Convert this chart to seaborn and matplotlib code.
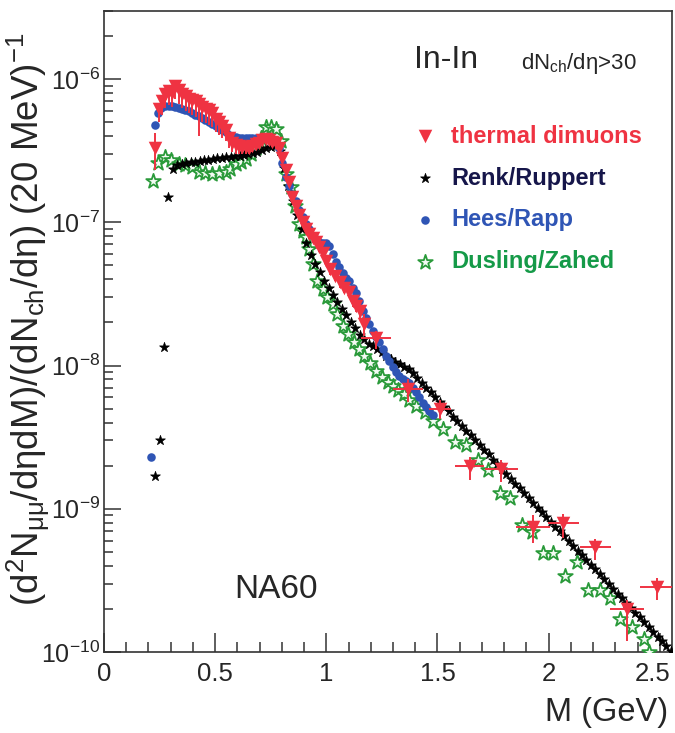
import matplotlib
matplotlib.use("Agg")
import matplotlib.pyplot as plt
from matplotlib import font_manager
from matplotlib.ticker import LogLocator, MultipleLocator
from matplotlib.transforms import ScaledTranslation
import seaborn as sns

# --- datos (M en GeV) ---
# thermal dimuons (NA60), con barras de error
therm_m = [0.228, 0.246, 0.261, 0.276, 0.291, 0.306, 0.321, 0.337, 0.352, 0.367,
           0.382, 0.397, 0.412, 0.427, 0.442, 0.457, 0.472, 0.487, 0.502, 0.517,
           0.532, 0.547, 0.562, 0.577, 0.592, 0.607, 0.622, 0.637, 0.652, 0.667,
           0.682, 0.697, 0.712, 0.727, 0.742, 0.757, 0.772, 0.787, 0.803, 0.818,
           0.833, 0.848, 0.863, 0.878, 0.893, 0.908, 0.923, 0.938, 0.953, 0.968,
           0.983, 1.000, 1.018, 1.040, 1.060, 1.081, 1.100, 1.118, 1.135, 1.150,
           1.168, 1.224, 1.366, 1.510, 1.645, 1.788, 1.930, 2.066, 2.209, 2.352,
           2.487]
therm_y = [3.3e-7, 6.2e-7, 7.0e-7, 7.9e-7, 8.3e-7, 8.0e-7, 9.0e-7, 8.4e-7, 7.9e-7, 7.6e-7,
           7.3e-7, 7.1e-7, 7.0e-7, 6.7e-7, 6.4e-7, 6.2e-7, 6.1e-7, 5.8e-7, 5.3e-7, 5.0e-7,
           4.7e-7, 4.4e-7, 3.9e-7, 3.6e-7, 3.45e-7, 3.4e-7, 3.35e-7, 3.35e-7, 3.3e-7, 3.4e-7,
           3.5e-7, 3.6e-7, 3.75e-7, 3.8e-7, 3.75e-7, 3.65e-7, 3.55e-7, 3.3e-7, 2.8e-7, 2.3e-7,
           1.9e-7, 1.5e-7, 1.3e-7, 1.12e-7, 1.0e-7, 9.0e-8, 8.3e-8, 7.8e-8, 7.3e-8, 6.7e-8,
           6.1e-8, 5.4e-8, 4.7e-8, 4.2e-8, 3.8e-8, 3.5e-8, 3.25e-8, 2.8e-8, 2.6e-8, 2.4e-8,
           1.95e-8, 1.55e-8, 6.9e-9, 5.0e-9, 2.0e-9, 1.9e-9, 7.5e-10, 7.9e-10, 5.4e-10, 2.0e-10,
           2.85e-10]
therm_lo = [2.3e-7, 5.0e-7, 5.6e-7, 6.3e-7, 6.6e-7, 6.4e-7, 7.3e-7, 6.7e-7, 6.3e-7, 6.0e-7,
            5.8e-7, 5.6e-7, 5.4e-7, 4.0e-7, 5.0e-7, 4.9e-7, 4.8e-7, 4.6e-7, 4.3e-7, 4.1e-7,
            3.9e-7, 3.7e-7, 3.3e-7, 3.1e-7, 3.0e-7, 3.0e-7, 3.0e-7, 3.0e-7, 3.0e-7, 3.1e-7,
            3.2e-7, 3.3e-7, 3.45e-7, 3.5e-7, 3.45e-7, 3.35e-7, 3.25e-7, 3.0e-7, 2.6e-7, 2.1e-7,
            1.75e-7, 1.4e-7, 1.2e-7, 1.04e-7, 9.3e-8, 8.4e-8, 7.7e-8, 7.2e-8, 6.8e-8, 6.2e-8,
            5.6e-8, 5.0e-8, 4.3e-8, 3.9e-8, 3.5e-8, 3.2e-8, 3.0e-8, 2.55e-8, 2.35e-8, 2.15e-8,
            1.6e-8, 1.3e-8, 5.6e-9, 4.2e-9, 1.58e-9, 1.55e-9, 5.75e-10, 6.3e-10, 4.4e-10, 1.2e-10,
            2.3e-10]
therm_hi = [4.2e-7, 6.8e-7, 7.6e-7, 8.5e-7, 8.9e-7, 8.6e-7, 9.6e-7, 9.0e-7, 8.5e-7, 8.2e-7,
            7.8e-7, 7.6e-7, 7.5e-7, 7.2e-7, 6.9e-7, 6.7e-7, 6.5e-7, 6.2e-7, 5.7e-7, 5.4e-7,
            5.0e-7, 4.7e-7, 4.2e-7, 3.9e-7, 3.7e-7, 3.6e-7, 3.55e-7, 3.55e-7, 3.5e-7, 3.6e-7,
            3.7e-7, 3.8e-7, 3.95e-7, 4.0e-7, 3.95e-7, 3.85e-7, 3.75e-7, 3.5e-7, 3.0e-7, 2.45e-7,
            2.0e-7, 1.6e-7, 1.38e-7, 1.18e-7, 1.06e-7, 9.5e-8, 8.8e-8, 8.2e-8, 7.7e-8, 7.1e-8,
            6.5e-8, 5.8e-8, 5.0e-8, 4.5e-8, 4.1e-8, 3.75e-8, 3.5e-8, 3.0e-8, 2.8e-8, 2.6e-8,
            2.3e-8, 1.75e-8, 8.0e-9, 5.7e-9, 2.3e-9, 2.2e-9, 9.0e-10, 9.2e-10, 6.2e-10, 2.3e-10,
            3.3e-10]
therm_xerr = [0.0] * 61 + [0.068, 0.068, 0.05, 0.065, 0.075, 0.075, 0.07, 0.07, 0.075, 0.075]

# Renk/Ruppert
renk_m = [0.23, 0.25, 0.27, 0.29, 0.31, 0.33, 0.35, 0.37, 0.39, 0.41,
          0.43, 0.45, 0.47, 0.49, 0.51, 0.53, 0.55, 0.57, 0.59, 0.61,
          0.63, 0.65, 0.67, 0.69, 0.71, 0.73, 0.75, 0.77, 0.79, 0.81,
          0.83, 0.85, 0.87, 0.89, 0.91, 0.93, 0.95, 0.97, 0.99, 1.01,
          1.03, 1.05, 1.07, 1.09, 1.11, 1.13, 1.15, 1.17, 1.19, 1.21,
          1.23, 1.25, 1.27, 1.29, 1.31, 1.33, 1.35, 1.37, 1.39, 1.41,
          1.43, 1.45, 1.47, 1.49, 1.51, 1.53, 1.55, 1.57, 1.59, 1.61,
          1.63, 1.65, 1.67, 1.69, 1.71, 1.73, 1.75, 1.77, 1.79, 1.81,
          1.83, 1.85, 1.87, 1.89, 1.91, 1.93, 1.95, 1.97, 1.99, 2.01,
          2.03, 2.05, 2.07, 2.09, 2.11, 2.13, 2.15, 2.17, 2.19, 2.21,
          2.23, 2.25, 2.27, 2.29, 2.31, 2.33, 2.35, 2.37, 2.39, 2.41,
          2.43, 2.45, 2.47, 2.49, 2.51, 2.53, 2.55]
renk_y = [1.7e-9, 3.0e-9, 1.35e-8, 1.5e-7, 2.35e-7, 2.5e-7, 2.55e-7, 2.6e-7, 2.62e-7, 2.65e-7,
          2.68e-7, 2.7e-7, 2.74e-7, 2.77e-7, 2.8e-7, 2.82e-7, 2.84e-7, 2.86e-7, 2.88e-7, 2.9e-7,
          2.94e-7, 2.98e-7, 3.03e-7, 3.1e-7, 3.18e-7, 3.28e-7, 3.38e-7, 3.42e-7, 3.15e-7, 2.4e-7,
          1.8e-7, 1.4e-7, 1.12e-7, 9.0e-8, 7.2e-8, 5.9e-8, 5.1e-8, 4.5e-8, 3.9e-8, 3.5e-8,
          3.1e-8, 2.78e-8, 2.5e-8, 2.25e-8, 2.02e-8, 1.82e-8, 1.64e-8, 1.52e-8, 1.42e-8, 1.36e-8,
          1.3e-8, 1.24e-8, 1.17e-8, 1.11e-8, 1.06e-8, 1.02e-8, 9.8e-9, 9.4e-9, 8.8e-9, 8.2e-9,
          7.6e-9, 7.0e-9, 6.5e-9, 6.0e-9, 5.6e-9, 5.15e-9, 4.8e-9, 4.4e-9, 4.1e-9, 3.8e-9,
          3.5e-9, 3.25e-9, 3.0e-9, 2.8e-9, 2.58e-9, 2.4e-9, 2.2e-9, 2.05e-9, 1.9e-9, 1.75e-9,
          1.62e-9, 1.5e-9, 1.39e-9, 1.29e-9, 1.19e-9, 1.1e-9, 1.02e-9, 9.5e-10, 8.8e-10, 8.1e-10,
          7.5e-10, 7.0e-10, 6.5e-10, 6.0e-10, 5.5e-10, 5.1e-10, 4.75e-10, 4.4e-10, 4.05e-10, 3.77e-10,
          3.5e-10, 3.23e-10, 3.0e-10, 2.77e-10, 2.56e-10, 2.37e-10, 2.2e-10, 2.04e-10, 1.88e-10, 1.75e-10,
          1.62e-10, 1.5e-10, 1.39e-10, 1.28e-10, 1.19e-10, 1.1e-10, 1.02e-10]

# Hees/Rapp
hees_m = [0.21, 0.228, 0.243, 0.258, 0.276, 0.291, 0.306, 0.321, 0.336, 0.351,
          0.366, 0.381, 0.396, 0.411, 0.426, 0.441, 0.456, 0.471, 0.486, 0.502,
          0.517, 0.532, 0.547, 0.562, 0.577, 0.592, 0.607, 0.622, 0.637, 0.652,
          0.667, 0.682, 0.697, 0.712, 0.727, 0.742, 0.757, 0.772, 0.787, 0.803,
          0.818, 0.833, 0.848, 0.863, 0.878, 0.893, 0.908, 0.923, 0.938, 0.953,
          0.968, 0.983, 0.998, 1.013, 1.028, 1.043, 1.058, 1.073, 1.088, 1.103,
          1.118, 1.133, 1.148, 1.163, 1.178, 1.193, 1.208, 1.223, 1.238, 1.253,
          1.269, 1.284, 1.299, 1.314, 1.329, 1.344, 1.359, 1.374, 1.389, 1.404,
          1.419, 1.434, 1.449, 1.464, 1.479]
hees_y = [2.3e-9, 4.8e-7, 5.8e-7, 6.3e-7, 6.5e-7, 6.5e-7, 6.45e-7, 6.4e-7, 6.3e-7, 6.2e-7,
          6.1e-7, 5.95e-7, 5.8e-7, 5.65e-7, 5.5e-7, 5.35e-7, 5.2e-7, 5.0e-7, 4.85e-7, 4.7e-7,
          4.55e-7, 4.4e-7, 4.25e-7, 4.1e-7, 4.0e-7, 3.95e-7, 3.9e-7, 3.9e-7, 3.9e-7, 3.9e-7,
          3.9e-7, 3.9e-7, 3.9e-7, 3.9e-7, 3.9e-7, 3.85e-7, 3.8e-7, 3.7e-7, 3.3e-7, 2.6e-7,
          2.06e-7, 1.8e-7, 1.58e-7, 1.4e-7, 1.21e-7, 1.08e-7, 9.8e-8, 9.0e-8, 8.0e-8, 7.6e-8,
          7.3e-8, 7.2e-8, 7.2e-8, 6.8e-8, 6.0e-8, 5.3e-8, 4.86e-8, 4.4e-8, 4.1e-8, 3.9e-8,
          3.5e-8, 3.2e-8, 2.8e-8, 2.4e-8, 2.15e-8, 1.95e-8, 1.75e-8, 1.58e-8, 1.45e-8, 1.3e-8,
          1.17e-8, 1.07e-8, 9.8e-9, 9.0e-9, 8.5e-9, 8.1e-9, 7.8e-9, 7.6e-9, 7.0e-9, 6.5e-9,
          6.0e-9, 5.5e-9, 5.1e-9, 4.8e-9, 4.5e-9]

# Dusling/Zahed
dus_m = [0.219, 0.245, 0.276, 0.300, 0.336, 0.366, 0.396, 0.426, 0.456, 0.487,
         0.517, 0.547, 0.567, 0.592, 0.617, 0.637, 0.660, 0.682, 0.705, 0.727,
         0.750, 0.772, 0.795, 0.818, 0.840, 0.860, 0.878, 0.893, 0.908, 0.923,
         0.938, 0.960, 0.983, 1.005, 1.028, 1.050, 1.073, 1.098, 1.126, 1.148,
         1.171, 1.197, 1.224, 1.250, 1.276, 1.299, 1.321, 1.348, 1.374, 1.405,
         1.442, 1.480, 1.524, 1.577, 1.630, 1.683, 1.728, 1.780, 1.825, 1.878,
         1.923, 1.976, 2.020, 2.074, 2.126, 2.179, 2.230, 2.277, 2.322, 2.375,
         2.427, 2.450]
dus_y = [1.95e-7, 2.6e-7, 2.87e-7, 2.7e-7, 2.55e-7, 2.5e-7, 2.42e-7, 2.23e-7, 2.2e-7, 2.17e-7,
         2.2e-7, 2.23e-7, 2.35e-7, 2.55e-7, 2.65e-7, 2.77e-7, 3.0e-7, 3.3e-7, 3.9e-7, 4.6e-7,
         4.6e-7, 4.5e-7, 3.7e-7, 2.17e-7, 1.75e-7, 1.3e-7, 9.8e-8, 8.7e-8, 7.85e-8, 6.5e-8,
         5.1e-8, 3.9e-8, 3.4e-8, 3.0e-8, 2.7e-8, 2.3e-8, 1.9e-8, 1.65e-8, 1.46e-8, 1.3e-8,
         1.17e-8, 1.04e-8, 9.2e-9, 8.3e-9, 7.65e-9, 7.2e-9, 6.75e-9, 6.3e-9, 5.7e-9, 5.2e-9,
         4.7e-9, 4.1e-9, 3.6e-9, 2.92e-9, 2.77e-9, 2.18e-9, 1.85e-9, 1.28e-9, 1.18e-9, 7.7e-10,
         6.9e-10, 4.9e-10, 4.9e-10, 3.4e-10, 4.25e-10, 2.7e-10, 2.7e-10, 2.37e-10, 1.71e-10, 1.5e-10,
         1.24e-10, 1.0e-10]

# colores
RED = "#EF3342"
NAVY = "#16164A"
BLUE = "#2F55B5"
GREEN = "#159A48"

fams = {f.name for f in font_manager.fontManager.ttflist}
fuente = "Liberation Sans Narrow" if "Liberation Sans Narrow" in fams else "Liberation Sans"

sns.set_theme(style="white")
plt.rcParams["font.family"] = [fuente, "DejaVu Sans"]
plt.rcParams["mathtext.fontset"] = "custom"
plt.rcParams["mathtext.rm"] = fuente
plt.rcParams["mathtext.it"] = fuente
plt.rcParams["mathtext.default"] = "regular"
plt.rcParams["axes.unicode_minus"] = False

fig = plt.figure(figsize=(6.75, 7.33), dpi=100)
ax = fig.add_axes([0.154, 0.1105, 0.8416, 0.8749])

# --- series ---
sns.scatterplot(x=dus_m, y=dus_y, ax=ax, marker="*", s=120, facecolor="#f4fbf4",
                edgecolor="#2A9A3A", linewidth=1.3, label="Dusling/Zahed", zorder=3)
sns.scatterplot(x=renk_m, y=renk_y, ax=ax, marker="*", s=55, color="black",
                edgecolor="black", linewidth=0.5, label="Renk/Ruppert", zorder=4)
sns.scatterplot(x=hees_m, y=hees_y, ax=ax, marker="o", s=38, color=BLUE,
                edgecolor=BLUE, linewidth=0, label="Hees/Rapp", zorder=5)

yerr = [[y - lo for y, lo in zip(therm_y, therm_lo)],
        [hi - y for y, hi in zip(therm_y, therm_hi)]]
ax.errorbar(therm_m, therm_y, yerr=yerr, xerr=therm_xerr, fmt="none",
            ecolor=RED, elinewidth=1.4, capsize=0, zorder=6)
sns.scatterplot(x=therm_m, y=therm_y, ax=ax, marker="v", s=95, color=RED,
                edgecolor=RED, linewidth=0, label="thermal dimuons", zorder=7)

# --- ejes ---
ax.set_yscale("log")
ax.set_xlim(0, 2.555)
ax.set_ylim(1e-10, 3e-6)
ax.xaxis.set_major_locator(MultipleLocator(0.5))
ax.xaxis.set_minor_locator(MultipleLocator(0.1))
ax.yaxis.set_major_locator(LogLocator(base=10))
ax.yaxis.set_minor_locator(LogLocator(base=10, subs=range(2, 10)))
ax.tick_params(axis="x", which="major", direction="in", length=14, width=1.1,
               labelsize=18.5, pad=7, color="#333333", bottom=True)
ax.tick_params(axis="x", which="minor", direction="in", length=7, width=1.1,
               color="#333333", bottom=True)
ax.tick_params(axis="y", which="major", direction="in", length=12.5, width=1.1,
               labelsize=18, pad=3, color="#333333", left=True)
ax.tick_params(axis="y", which="minor", direction="in", length=6.5, width=1.1,
               color="#333333", left=True)
ax.xaxis.set_major_formatter(plt.FuncFormatter(lambda v, p: f"{v:g}"))
for s in ax.spines.values():
    s.set_color("#333333")
    s.set_linewidth(1.2)

ax.set_xlabel("M (GeV)", fontsize=23.5, ha="right", va="center")
ax.xaxis.set_label_coords(0.993, -0.094)
ax.set_ylabel(r"(d$^2$N$_{\mu\mu}$/dηdM)/(dN$_{ch}$/dη) (20 MeV)$^{-1}$", fontsize=26.5, va="center")
ax.yaxis.set_label_coords(-0.133, 0.519)

# --- textos ---
ax.text(0.546, 0.923, "In-In", transform=ax.transAxes, fontsize=23, va="center")
ax.text(0.734, 0.909, r"dN$_{ch}$/dη>30", transform=ax.transAxes, fontsize=16, va="baseline")
ax.text(0.2286, 0.0967, "NA60", transform=ax.transAxes, fontsize=24, va="center",
        family=["Liberation Sans", "DejaVu Sans"])

# --- leyenda ---
h, l = ax.get_legend_handles_labels()
orden = [l.index(n) for n in ["thermal dimuons", "Renk/Ruppert", "Hees/Rapp", "Dusling/Zahed"]]
leg = ax.legend([h[i] for i in orden], [l[i] for i in orden], loc="upper left",
                bbox_to_anchor=(0.53, 0.837), frameon=False, handlelength=0.9,
                handletextpad=0.65, labelspacing=0.8, borderaxespad=0,
                prop={"weight": "bold", "size": 17})
for t, c in zip(leg.get_texts(), [RED, NAVY, BLUE, GREEN]):
    t.set_color(c)

# la etiqueta 2.5 queda pegada al borde: se corre un poco a la izquierda
fig.canvas.draw()
for tick in ax.xaxis.get_major_ticks():
    if abs(tick.get_loc() - 2.5) < 1e-6:
        lab = tick.label1
        lab.set_transform(lab.get_transform() + ScaledTranslation(-5 / 72, 0, fig.dpi_scale_trans))

fig.savefig("out.png", dpi=100)
